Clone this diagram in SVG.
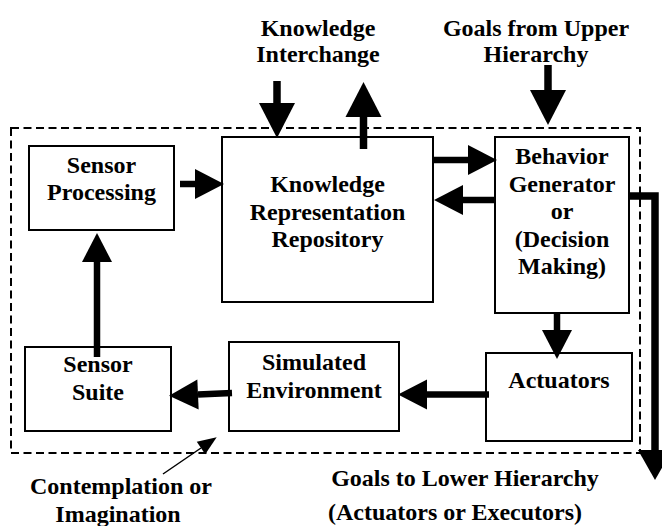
<svg xmlns="http://www.w3.org/2000/svg" width="662" height="526" viewBox="0 0 662 526">
<style>
.box{fill:#fff;stroke:#000;stroke-width:2}
.t{font-family:"Liberation Serif","Times New Roman",serif;font-weight:bold;font-size:24px;fill:#000;text-anchor:middle}
.c{fill:none;stroke:#000;stroke-width:6.5}
.cb{fill:none;stroke:#000;stroke-width:7.5}
</style>
<defs>
<marker id="hb" markerUnits="userSpaceOnUse" markerWidth="36" markerHeight="38" refX="0" refY="18" orient="auto" overflow="visible"><path d="M0,0 L35,18 L0,36 z" fill="#000"/></marker>
<marker id="h" markerUnits="userSpaceOnUse" markerWidth="30" markerHeight="31" refX="0" refY="15" orient="auto" overflow="visible"><path d="M0,0 L29,15 L0,30 z" fill="#000"/></marker>
<marker id="hr" markerUnits="userSpaceOnUse" markerWidth="30" markerHeight="35" refX="0" refY="17" orient="auto" overflow="visible"><path d="M0,0 L30,17 L0,34 z" fill="#000"/></marker>
<marker id="ht" markerUnits="userSpaceOnUse" markerWidth="20" markerHeight="16" refX="0" refY="7.5" orient="auto" overflow="visible"><path d="M0,0 L19,7.5 L0,15 z" fill="#000"/></marker>
</defs>
<rect x="11" y="128" width="629" height="325" fill="none" stroke="#000" stroke-width="2" stroke-dasharray="8 4.5"/>

<g id="sensor-processing">
<rect class="box" x="29" y="146" width="145" height="84"/>
<text class="t" x="101.5" y="173">Sensor</text>
<text class="t" x="101.5" y="200">Processing</text>
</g>
<g id="knowledge-repository">
<rect class="box" x="222" y="137" width="211" height="165"/>
<text class="t" x="327.5" y="192">Knowledge</text>
<text class="t" x="327.5" y="219.5">Representation</text>
<text class="t" x="327.5" y="247">Repository</text>
</g>
<g id="behavior-generator">
<rect class="box" x="495" y="137" width="134" height="176"/>
<text class="t" x="562" y="164">Behavior</text>
<text class="t" x="562" y="191.5">Generator</text>
<text class="t" x="562" y="219">or</text>
<text class="t" x="562" y="246.5">(Decision</text>
<text class="t" x="562" y="274">Making)</text>
</g>
<g id="actuators">
<rect class="box" x="486" y="353" width="146" height="88"/>
<text class="t" x="559" y="388">Actuators</text>
</g>
<g id="simulated-environment">
<rect class="box" x="229" y="342" width="170" height="89"/>
<text class="t" x="314" y="370">Simulated</text>
<text class="t" x="314" y="398">Environment</text>
</g>
<g id="sensor-suite">
<rect class="box" x="25" y="347" width="146" height="84"/>
<text class="t" x="98" y="372">Sensor</text>
<text class="t" x="98" y="400">Suite</text>
</g>

<g id="labels">
<text class="t" x="318" y="36">Knowledge</text>
<text class="t" x="318" y="62">Interchange</text>
<text class="t" x="536" y="36">Goals from Upper</text>
<text class="t" x="536" y="62">Hierarchy</text>
<text class="t" x="465" y="486">Goals to Lower Hierarchy</text>
<text class="t" x="455" y="520">(Actuators or Executors)</text>
<text class="t" x="121" y="494">Contemplation or</text>
<text class="t" x="118" y="522">Imagination</text>
</g>

<g id="connectors">
<path class="cb" d="M277,81 V103" marker-end="url(#hb)"/>
<path class="cb" d="M363.5,149 V117" marker-end="url(#hb)"/>
<path class="cb" d="M548,65 V90" marker-end="url(#hb)"/>
<path class="c" d="M180,184 H195" marker-end="url(#h)"/>
<path class="c" d="M433,160 H468" marker-end="url(#h)"/>
<path class="c" d="M495,200 H463" marker-end="url(#h)"/>
<path class="c" d="M97,357 V262" marker-end="url(#h)"/>
<path class="c" d="M557,313 V330" marker-end="url(#h)"/>
<path class="c" d="M489,394.5 H427" marker-end="url(#h)"/>
<path class="c" d="M232,393 L198,394.5" marker-end="url(#h)"/>
<path class="cb" d="M629,196 H655 V450" marker-end="url(#hr)"/>
<path fill="none" stroke="#000" stroke-width="1.5" d="M163,474 L201,448" marker-end="url(#ht)"/>
</g>
</svg>
